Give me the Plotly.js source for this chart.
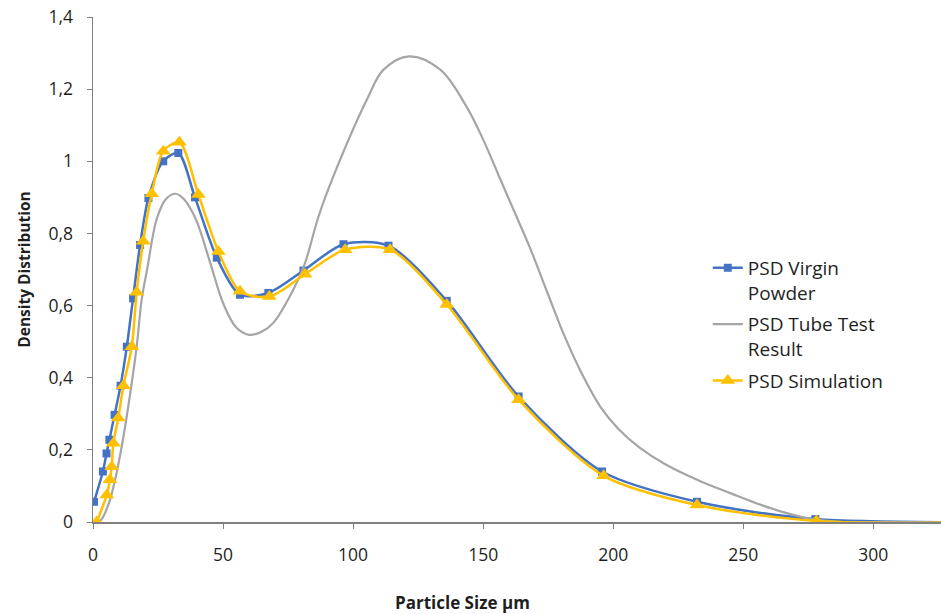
<!DOCTYPE html>
<html>
<head>
<meta charset="utf-8">
<script src="https://cdn.plot.ly/plotly-3.0.1.min.js"></script>
<style>html,body{margin:0;padding:0;background:#fff;}#chart{width:941px;height:614px;}</style>
</head>
<body>
<div id="chart"></div>
<script>
// PSD Virgin Powder
const virginX = [0.4, 3.8, 5.2, 6.3, 8.3, 10.6, 13.0, 15.4, 18.1, 21.3, 27.0, 32.8, 39.2, 47.6, 56.5, 67.4, 80.9, 96.3, 113.6, 136.0, 163.6, 195.7, 232.2, 277.7, 360];
const virginY = [0.056, 0.14, 0.19, 0.228, 0.297, 0.378, 0.486, 0.62, 0.768, 0.898, 1.0, 1.023, 0.9, 0.733, 0.63, 0.635, 0.697, 0.77, 0.766, 0.613, 0.348, 0.14, 0.056, 0.008, 0];

// PSD Tube Test Result
const tubeX = [1, 3, 6, 8.5, 11.5, 14.5, 16.8, 18.7, 20.8, 24.5, 28, 31.7, 35, 39.5, 45, 50, 55, 60, 65, 69.3, 77, 81.5, 86.7, 92.4, 105.3, 111.7, 121.5, 133.5, 143.7, 150, 156, 162, 168, 175, 181, 188, 195, 202, 210, 220, 233.5, 245, 255, 265, 275, 288, 300, 326];
const tubeY = [0, 0.005, 0.05, 0.117, 0.228, 0.366, 0.486, 0.616, 0.70, 0.84, 0.895, 0.91, 0.895, 0.84, 0.72, 0.607, 0.54, 0.519, 0.528, 0.552, 0.644, 0.718, 0.847, 0.958, 1.171, 1.254, 1.291, 1.254, 1.15, 1.06, 0.96, 0.86, 0.76, 0.63, 0.52, 0.41, 0.32, 0.258, 0.207, 0.16, 0.113, 0.08, 0.052, 0.028, 0.01, 0, 0, 0];

// PSD Simulation
const simX = [1.4, 5.3, 6.5, 7.2, 7.8, 9.7, 11.7, 14.9, 16.8, 19.3, 22.6, 27.0, 33.2, 40.5, 48.2, 56.5, 67.8, 81.5, 96.9, 114.2, 136.0, 163.6, 196.3, 232.2, 278.1, 360];
const simY = [0, 0.075, 0.117, 0.153, 0.218, 0.288, 0.378, 0.486, 0.637, 0.778, 0.91, 1.028, 1.053, 0.908, 0.75, 0.64, 0.625, 0.687, 0.755, 0.755, 0.603, 0.339, 0.128, 0.047, 0.003, 0];

const xTicks = [0, 50, 100, 150, 200, 250, 300];
const yTicks = [0, 0.2, 0.4, 0.6, 0.8, 1, 1.2, 1.4];

const FONT = '"Open Sans", Lato, sans-serif';

const traces = [
  {
    x: virginX, y: virginY, name: 'PSD Virgin<br>Powder', type: 'scatter', mode: 'lines+markers',
    line: {color: '#4472C4', width: 2.5, shape: 'spline', smoothing: 0.8},
    marker: {symbol: 'square', size: 8, color: '#4472C4'},
    legendgroup: 'a'
  },
  {
    x: tubeX, y: tubeY, name: 'PSD Tube Test<br>Result', type: 'scatter', mode: 'lines',
    line: {color: '#A5A5A5', width: 2.2, shape: 'spline', smoothing: 1},
    legendgroup: 'b'
  },
  {
    x: simX, y: simY, name: 'PSD Simulation', type: 'scatter', mode: 'lines+markers',
    line: {color: '#FFC000', width: 2.5, shape: 'spline', smoothing: 0.8},
    marker: {symbol: 'triangle-up', size: 13, color: '#FFC000'},
    legendgroup: 'c'
  }
];

const layout = {
  width: 941, height: 614,
  margin: {l: 93, r: 0, t: 17, b: 92},
  paper_bgcolor: '#fff', plot_bgcolor: '#fff',
  font: {family: FONT, color: '#1f1f1f', size: 17},
  separators: ', ',
  showlegend: true,
  legend: {
    x: 0.725, y: 0.541, xanchor: 'left', yanchor: 'top',
    font: {size: 19, color: '#1f1f1f'},
    bgcolor: 'rgba(0,0,0,0)', valign: 'top',
    traceorder: 'grouped', tracegroupgap: 4
  },
  xaxis: {
    range: [0, 326], tickvals: xTicks, ticks: 'outside', ticklen: 5, tickcolor: '#808080',
    showline: true, linecolor: '#808080', linewidth: 1.5, showgrid: false, zeroline: false,
    tickfont: {size: 17.5}, ticklabelstandoff: 11, fixedrange: true
  },
  yaxis: {
    range: [0, 1.4], tickvals: yTicks, ticks: 'outside', ticklen: 5, tickcolor: '#808080',
    showline: true, linecolor: '#808080', linewidth: 1.5, showgrid: false, zeroline: false,
    tickfont: {size: 17.5}, ticklabelstandoff: 10,
    title: {text: '<b>Density Distribution</b>', font: {size: 15.5}, standoff: 14}
  },
  annotations: [
    {text: '<b>Particle Size µm</b>', xref: 'paper', yref: 'paper', x: (462 - 93) / 848, y: 0,
     yshift: -80, xanchor: 'center', yanchor: 'middle', showarrow: false, font: {size: 17}}
  ]
};

Plotly.newPlot('chart', traces, layout, {staticPlot: true});
</script>
</body>
</html>
